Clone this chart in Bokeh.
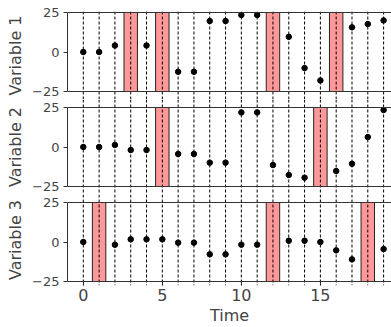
import math
from bokeh.plotting import figure
from bokeh.layouts import column
from bokeh.models import Span, FixedTicker, Range1d
from bokeh.embed import file_html
from bokeh.resources import INLINE

nan = float("nan")

times = list(range(20))
var_names = ["Variable 1", "Variable 2", "Variable 3"]
var1 = [0, 0, 4.1, nan, 4.1, nan, -12.5, -12.5, 19.6, 19.6, 23.4, 23.4, nan, 9.6, -10.2, -18.0, nan, 15.6, 17.7, 20.0]
var2 = [0, 0, 1.3, -1.9, -1.9, nan, -4.4, -4.4, -9.9, -9.9, 21.9, 21.9, -11.4, -17.7, -19.4, nan, -15.2, -10.6, 6.3, 23.4]
var3 = [0, nan, -1.7, 1.7, 1.7, 1.7, -0.4, -0.4, -7.8, -7.8, -1.7, -1.7, nan, 0.8, 0.8, 0, -5.3, -11.0, nan, -4.5]
anom1 = [3, 5, 12, 16]
anom2 = [5, 15]
anom3 = [1, 12, 18]
y_ticks = [-25, 0, 25]
x_ticks = [0, 5, 10, 15]

series = [var1, var2, var3]
anoms = [anom1, anom2, anom3]

PX = 79 / 50.0  # pixels per unit in a panel
FONT = "DejaVu Sans"

# (frame_height, top extension px, bottom extension px, min_border_top, min_border_bottom)
layouts = [
    (88, 1, 8, 11, 0),
    (95, 8, 8, 0, 0),
    (91, 8, 4, 0, 42),
]

figs = []
for k in range(3):
    fh, ext_t, ext_b, mbt, mbb = layouts[k]
    last = (k == 2)
    p = figure(
        frame_width=324, frame_height=fh,
        min_border_left=67, min_border_right=0,
        min_border_top=mbt, min_border_bottom=mbb,
        x_range=Range1d(-1.0, 19.5),
        y_range=Range1d(-25 - ext_b / PX, 25 + ext_t / PX),
        toolbar_location=None, output_backend="svg",
        x_axis_location="below" if last else None,
    )
    p.outline_line_color = None
    p.xgrid.visible = False
    p.ygrid.visible = False
    p.background_fill_color = "white"
    p.border_fill_color = "white"

    # vertical dashed lines at each time step
    for t in times:
        p.add_layout(Span(location=t, dimension="height", line_color="black",
                          line_width=1, line_dash="3 2"))

    # anomaly rectangles
    p.vbar(x=anoms[k], top=25, bottom=-25, width=0.85, fill_color="red",
           fill_alpha=0.4, line_color="#222222", line_width=1)

    # top / bottom borders of the panel
    for yb in (25, -25):
        p.add_layout(Span(location=yb, dimension="width", line_color="#333333",
                          line_width=1))

    xs = [t for t, v in zip(times, series[k]) if not math.isnan(v)]
    ys = [v for v in series[k] if not math.isnan(v)]
    p.scatter(xs, ys, size=5.5, color="black")

    ya = p.yaxis[0]
    ya.bounds = (-25, 25)
    ya.ticker = FixedTicker(ticks=y_ticks)
    ya.major_label_overrides = {-25: "\u221225"}
    ya.axis_label = var_names[k]
    ya.axis_label_text_font = FONT
    ya.axis_label_text_font_size = "16px"
    ya.axis_label_text_font_style = "normal"
    ya.axis_label_standoff = 4
    ya.major_label_text_font = FONT
    ya.major_label_text_font_size = "13px"
    ya.major_label_standoff = 4
    ya.major_tick_in = 0
    ya.major_tick_out = 4
    ya.minor_tick_in = 0
    ya.minor_tick_out = 0
    ya.axis_line_color = "#333333"
    ya.major_tick_line_color = "#333333"

    if last:
        xa = p.xaxis[0]
        xa.ticker = FixedTicker(ticks=x_ticks)
        xa.axis_line_color = None
        xa.major_tick_in = 4
        xa.major_tick_out = 0
        xa.minor_tick_in = 0
        xa.minor_tick_out = 0
        xa.major_tick_line_color = "#333333"
        xa.major_label_text_font = FONT
        xa.major_label_text_font_size = "16px"
        xa.major_label_standoff = 3
        xa.axis_label = "Time"
        xa.axis_label_text_font = FONT
        xa.axis_label_text_font_size = "16px"
        xa.axis_label_text_font_style = "normal"
        xa.axis_label_standoff = 2
    figs.append(p)

layout = column(*figs, spacing=0)
open("out.html", "w").write(file_html(layout, INLINE))
